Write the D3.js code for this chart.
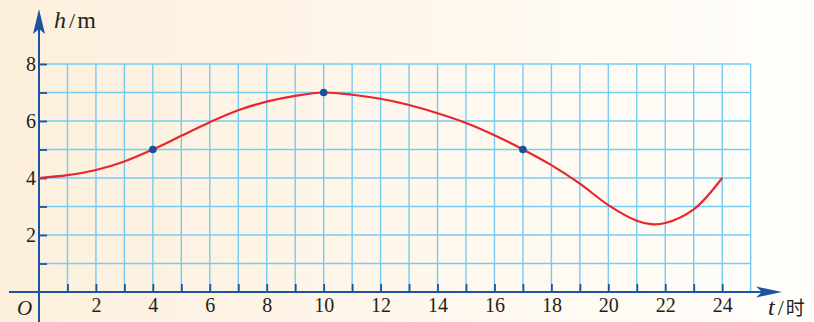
<!DOCTYPE html>
<html>
<head>
<meta charset="utf-8">
<script src="https://cdn.jsdelivr.net/npm/d3@7"></script>
<style>
html,body{margin:0;padding:0;background:#fff;}
svg{display:block;}
</style>
</head>
<body>
<svg id="chart" width="814" height="322"></svg>
<script>
// ---- data ----
const hours   = [0, 1, 2, 3, 4, 5, 6, 7, 8, 9, 10, 11, 12, 13, 14, 15, 16, 17, 18, 19, 20, 21, 21.5, 22, 23, 24];
const heights = [4, 4.1, 4.28, 4.58, 5, 5.48, 5.96, 6.38, 6.68, 6.88, 7, 6.92, 6.78, 6.56, 6.27, 5.93, 5.5, 5, 4.45, 3.8, 3.05, 2.5, 2.38, 2.42, 2.9, 4];
const keyHours   = [4, 10, 17];
const keyHeights = [5, 7, 5];
const xTickLabels = [2, 4, 6, 8, 10, 12, 14, 16, 18, 20, 22, 24];
const yTickLabels = [2, 4, 6, 8];
const xGrid = d3.range(1, 26);
const yGrid = d3.range(1, 9);

// ---- layout ----
const svg = d3.select("#chart");
const W = 814, H = 322;
const x = d3.scaleLinear().domain([0, 24]).range([39, 722.2]);
const y = d3.scaleLinear().domain([0, 8]).range([292, 64]);

const axisColor = "#1c54a0";
const gridColor = "#74cdf1";
const serif = "'Liberation Serif','DejaVu Serif',serif";

// background gradient
const defs = svg.append("defs");
const grad = defs.append("linearGradient").attr("id", "bg").attr("x1", 0).attr("x2", 1).attr("y1", 0).attr("y2", 0);
grad.append("stop").attr("offset", "0%").attr("stop-color", "#fcefdc");
grad.append("stop").attr("offset", "45%").attr("stop-color", "#fef6ea");
grad.append("stop").attr("offset", "100%").attr("stop-color", "#fffefb");
svg.append("rect").attr("width", W).attr("height", H).attr("fill", "url(#bg)");

// grid
const g = svg.append("g");
g.selectAll("line.v").data(xGrid).enter().append("line")
  .attr("x1", d => x(d)).attr("x2", d => x(d))
  .attr("y1", y(0)).attr("y2", y(8))
  .attr("stroke", gridColor).attr("stroke-width", 1.4);
g.selectAll("line.h").data(yGrid).enter().append("line")
  .attr("x1", x(0)).attr("x2", x(25))
  .attr("y1", d => y(d)).attr("y2", d => y(d))
  .attr("stroke", gridColor).attr("stroke-width", 1.4);

// axes lines
svg.append("line").attr("x1", 9).attr("x2", 770).attr("y1", y(0)).attr("y2", y(0))
  .attr("stroke", axisColor).attr("stroke-width", 2);
svg.append("line").attr("x1", x(0)).attr("x2", x(0)).attr("y1", 322).attr("y2", 22)
  .attr("stroke", axisColor).attr("stroke-width", 2);

// arrowheads
const xa = 782, ya = y(0);
svg.append("path")
  .attr("d", `M${xa},${ya} L${xa-26},${ya-5.5} L${xa-20},${ya} L${xa-26},${ya+5.5} Z`)
  .attr("fill", axisColor);
const yx = x(0), yt = 9;
svg.append("path")
  .attr("d", `M${yx},${yt} L${yx-6},${yt+25} L${yx},${yt+20} L${yx+6},${yt+25} Z`)
  .attr("fill", axisColor);

// axis ticks via d3 axes
const xTickAxis = d3.axisBottom(x).tickValues(d3.range(1, 25)).tickSizeInner(-8).tickSizeOuter(0).tickFormat("");
const xt = svg.append("g").attr("transform", `translate(0,${y(0)})`).call(xTickAxis);
xt.select(".domain").remove();
xt.selectAll("line").attr("stroke", axisColor).attr("stroke-width", 1.8);

const yTickAxis = d3.axisLeft(y).tickValues(d3.range(1, 9)).tickSizeInner(-8).tickSizeOuter(0).tickFormat("");
const yt2 = svg.append("g").attr("transform", `translate(${x(0)},0)`).call(yTickAxis);
yt2.select(".domain").remove();
yt2.selectAll("line").attr("stroke", axisColor).attr("stroke-width", 1.8);

// labels
const xLab = d3.axisBottom(x).tickValues(xTickLabels).tickSize(0).tickPadding(0);
const xl = svg.append("g").attr("transform", `translate(0,${y(0)})`).call(xLab);
xl.select(".domain").remove();
xl.selectAll("text").attr("font-family", serif).attr("font-size", 20).attr("fill", "#231f20")
  .attr("dy", null).attr("y", 20);

const yLab = d3.axisLeft(y).tickValues(yTickLabels).tickSize(0).tickPadding(0);
const yl = svg.append("g").attr("transform", `translate(${x(0) - 3},0)`).call(yLab);
yl.select(".domain").remove();
yl.selectAll("text").attr("font-family", serif).attr("font-size", 20).attr("fill", "#231f20")
  .attr("dy", "0.33em");

// origin label
svg.append("text").attr("x", 17).attr("y", 315).attr("font-family", serif).attr("font-style", "italic")
  .attr("font-size", 21).attr("fill", "#231f20").text("O");

// axis titles
const ht = svg.append("text").attr("x", 54).attr("y", 28).attr("font-family", serif).attr("font-size", 24).attr("fill", "#231f20");
ht.append("tspan").attr("font-style", "italic").text("h");
ht.append("tspan").attr("dx", 3).attr("font-size", 22).text("/");
ht.append("tspan").attr("dx", 2).text("m");

const tt = svg.append("text").attr("x", 768).attr("y", 315).attr("font-family", serif).attr("font-size", 24).attr("fill", "#231f20");
tt.append("tspan").attr("font-style", "italic").text("t");
tt.append("tspan").attr("dx", 3).attr("font-size", 22).text("/");
tt.append("tspan").attr("dx", 2).attr("font-size", 19).attr("font-family", "'Noto Sans CJK SC',serif").text("时");

// curve
const line = d3.line().x((d, i) => x(hours[i])).y(d => y(d)).curve(d3.curveCatmullRom.alpha(0.5));
svg.append("path").attr("d", line(heights)).attr("fill", "none")
  .attr("stroke", "#e8262c").attr("stroke-width", 2.2);

// key points
svg.selectAll("circle.k").data(keyHours).enter().append("circle")
  .attr("cx", d => x(d)).attr("cy", (d, i) => y(keyHeights[i])).attr("r", 3.8)
  .attr("fill", "#16509e");
</script>
</body>
</html>
